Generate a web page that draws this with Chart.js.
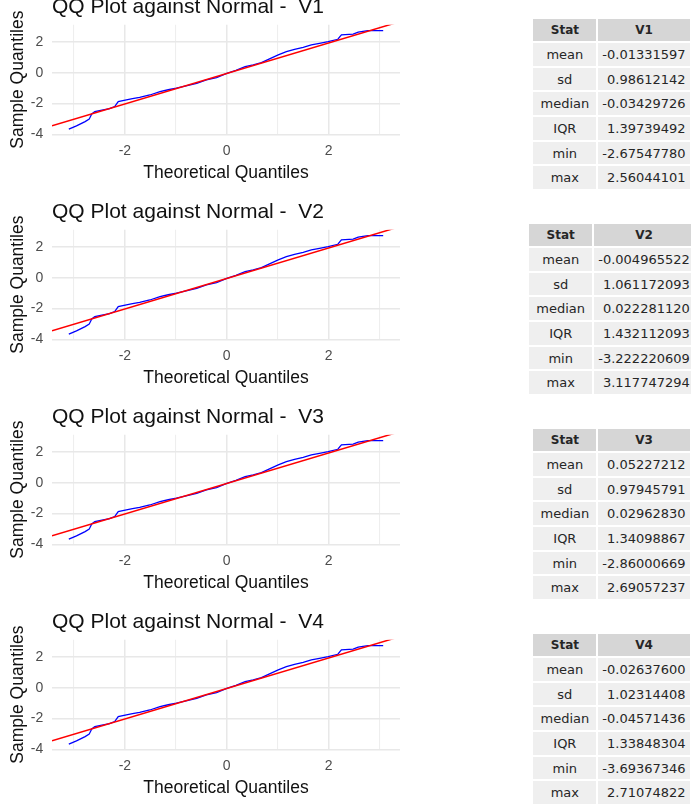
<!DOCTYPE html>
<html>
<head>
<meta charset="utf-8">
<script src="https://cdn.jsdelivr.net/npm/chart.js@4.4.1/dist/chart.umd.min.js"></script>
<style>
    html, body {
        margin: 0;
        padding: 0;
        width: 691px;
        height: 809px;
        overflow: hidden;
        background: #fff;
    }
    body { position: relative; }
    .plot { position: absolute; left: 0; }
    .stats { position: absolute; left: 511px; width: 201px; }
    .stats table {
        margin: 0 auto;
        border-collapse: separate;
        border-spacing: 2px;
        font-family: "DejaVu Sans", sans-serif;
        font-size: 13px;
        color: #262626;
    }
    .stats th {
        background: #d6d6d6;
        font-size: 12px;
        font-weight: bold;
        height: 22px;
        padding: 0 4px;
    }
    .stats td {
        background: #efefef;
        height: 22.7px;
        padding: 0 4px;
    }
    .stats td.stat { width: 55px; text-align: center; }
    .stats td.val { text-align: right; }
</style>
</head>
<body>
<script>
/* ===============================
   DATA
================================= */
const variables = ['V1', 'V2', 'V3', 'V4'];

// the four QQ panels show the same curve
const qqTheoretical = [-3.10, -2.95, -2.78, -2.70, -2.65, -2.59, -2.45, -2.30, -2.20, -2.13,
    -1.97, -1.85, -1.71, -1.51, -1.31, -1.15, -0.99, -0.80, -0.59, -0.40,
    -0.20, 0.00, 0.18, 0.36, 0.52, 0.68, 0.85, 1.01, 1.17, 1.33,
    1.50, 1.66, 1.82, 1.99, 2.18, 2.25, 2.48, 2.58, 2.77, 3.07];
const qqSample = [-3.66, -3.45, -3.17, -3.01, -2.67, -2.52, -2.42, -2.32, -2.19, -1.87,
    -1.76, -1.68, -1.59, -1.44, -1.22, -1.10, -1.00, -0.84, -0.68, -0.46,
    -0.31, -0.03, 0.16, 0.40, 0.52, 0.66, 0.92, 1.16, 1.38, 1.53,
    1.66, 1.81, 1.92, 2.03, 2.18, 2.46, 2.51, 2.64, 2.74, 2.74];

// reference line (red)
const refIntercept = -0.04;
const refSlope = 0.99;

// axis limits and ticks
const xMin = -3.43, xMax = 3.40;
const yMin = -4.0, yMax = 3.12;
const xGrid = [-3, -2, -1, 0, 1, 2, 3];
const xLabels = [-2, 0, 2];
const yGrid = [-4, -3, -2, -1, 0, 1, 2, 3];
const yLabels = [-4, -2, 0, 2];

// summary tables
const statNames = ['mean', 'sd', 'median', 'IQR', 'min', 'max'];
const statsV1 = ['-0.01331597', '0.98612142', '-0.03429726', '1.39739492', '-2.67547780', '2.56044101'];
const statsV2 = ['-0.004965522', '1.061172093', '0.022281120', '1.432112093', '-3.222220609', '3.117747294'];
const statsV3 = ['0.05227212', '0.97945791', '0.02962830', '1.34098867', '-2.86000669', '2.69057237'];
const statsV4 = ['-0.02637600', '1.02314408', '-0.04571436', '1.33848304', '-3.69367346', '2.71074822'];
const statsByVar = [statsV1, statsV2, statsV3, statsV4];

/* ===============================
   STYLE
================================= */
const FONT = '"Liberation Sans", Arial, sans-serif';
const gridColor = ctx => (isMajor(ctx) ? '#e8e8e8' : '#eeeeee');
const gridWidth = ctx => (isMajor(ctx) ? 1.5 : 1.1);

function isMajor(ctx) {
    const v = ctx.tick ? ctx.tick.value : null;
    return xLabels.includes(v) || yLabels.includes(v);
}

/* ===============================
   QQ PLOT
================================= */
function makePlot(name, top) {
    const canvas = document.createElement('canvas');
    canvas.className = 'plot';
    canvas.width = 400;
    canvas.height = 205;
    canvas.style.top = top + 'px';
    canvas.style.width = '400px';
    canvas.style.height = '205px';
    document.body.appendChild(canvas);

    const samplePts = qqTheoretical.map((x, i) => ({ x: x, y: qqSample[i] }));
    const refPts = [xMin, xMax].map(x => ({ x: x, y: refIntercept + refSlope * x }));

    new Chart(canvas.getContext('2d'), {
        type: 'scatter',
        data: {
            datasets: [
                {
                    data: refPts,
                    showLine: true,
                    borderColor: '#ff0000',
                    borderWidth: 1.5,
                    pointRadius: 0
                },
                {
                    data: samplePts,
                    showLine: true,
                    borderColor: '#0000ff',
                    borderWidth: 1.3,
                    pointRadius: 0
                }
            ]
        },
        options: {
            responsive: false,
            animation: false,
            devicePixelRatio: 1,
            layout: { padding: 0 },
            plugins: {
                legend: { display: false },
                tooltip: { enabled: false },
                title: {
                    display: true,
                    text: 'QQ Plot against Normal -  ' + name,
                    align: 'start',
                    fullSize: false,
                    color: '#111',
                    font: { family: FONT, size: 21, weight: 'normal' },
                    padding: { top: 12.2, bottom: 5.4 }
                }
            },
            scales: {
                x: {
                    type: 'linear',
                    min: xMin,
                    max: xMax,
                    afterBuildTicks: s => { s.ticks = xGrid.map(v => ({ value: v })); },
                    afterFit: s => { s.height = 52.6; },
                    border: { display: false },
                    grid: { drawTicks: false, color: gridColor, lineWidth: gridWidth },
                    ticks: {
                        autoSkip: false,
                        maxRotation: 0,
                        padding: 8.6,
                        color: '#4d4d4d',
                        font: { family: FONT, size: 14 },
                        callback: v => (xLabels.includes(v) ? String(v) : '')
                    },
                    title: {
                        display: true,
                        text: 'Theoretical Quantiles',
                        color: '#111',
                        font: { family: FONT, size: 17.5 },
                        padding: { top: 0, bottom: 3.8 }
                    }
                },
                y: {
                    type: 'linear',
                    min: yMin,
                    max: yMax,
                    afterBuildTicks: s => { s.ticks = yGrid.map(v => ({ value: v })); },
                    afterFit: s => { s.width = 52; },
                    border: { display: false },
                    grid: { drawTicks: false, color: gridColor, lineWidth: gridWidth },
                    ticks: {
                        padding: 8.7,
                        color: '#4d4d4d',
                        font: { family: FONT, size: 14 },
                        callback: v => (yLabels.includes(v) ? String(v) : '')
                    },
                    title: {
                        display: true,
                        text: 'Sample Quantiles',
                        color: '#111',
                        font: { family: FONT, size: 17.5 },
                        padding: { top: 7.5, bottom: 0 }
                    }
                }
            }
        }
    });
}

/* ===============================
   STATS TABLE
================================= */
function makeTable(name, values, top) {
    const wrap = document.createElement('div');
    wrap.className = 'stats';
    wrap.style.top = top + 'px';

    let html = '<table><tr><th>Stat</th><th>' + name + '</th></tr>';
    statNames.forEach((s, i) => {
        html += '<tr><td class="stat">' + s + '</td><td class="val">' + values[i] + '</td></tr>';
    });
    html += '</table>';
    wrap.innerHTML = html;
    document.body.appendChild(wrap);
}

/* ===============================
   INIT
================================= */
variables.forEach((name, k) => {
    makePlot(name, -18 + k * 205);
    makeTable(name, statsByVar[k], 17 + k * 205);
});
</script>
</body>
</html>
